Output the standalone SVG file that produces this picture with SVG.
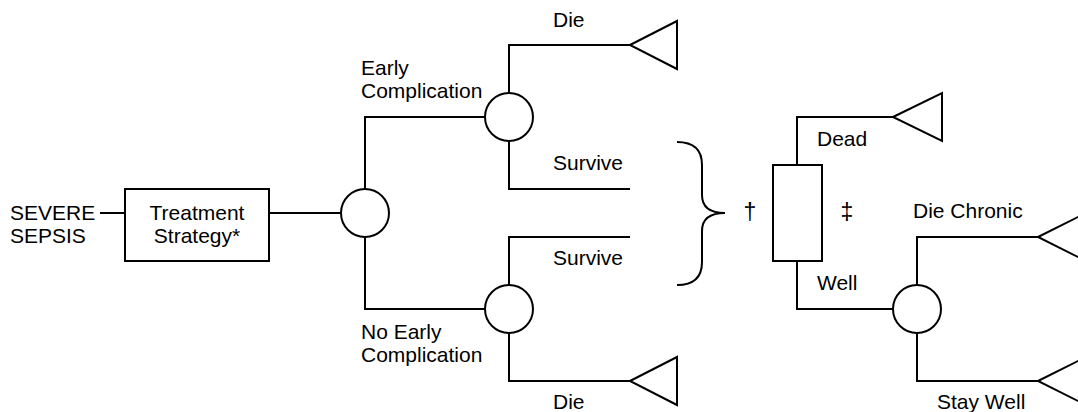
<svg xmlns="http://www.w3.org/2000/svg" width="1078" height="412" viewBox="0 0 1078 412">
  <style>
    .ln { fill: none; stroke: #000; stroke-width: 2; }
    .shape { fill: #fff; stroke: #000; stroke-width: 2; }
    text { font-family: "Liberation Sans", Arial, sans-serif; font-size: 21px; fill: #000; }
    .mid { text-anchor: middle; }
    .mark { font-size: 23px; }
  </style>
  <rect width="1078" height="412" fill="#fff"/>

  <!-- connectors -->
  <g id="connectors" class="ln">
    <path d="M100,213 H125"/>
    <path d="M269,213 H341"/>
    <path d="M365,189 V117 H485"/>
    <path d="M365,237 V309 H485"/>
    <path d="M509,93 V45 H630"/>
    <path d="M509,141 V189 H630"/>
    <path d="M509,285 V237 H630"/>
    <path d="M509,333 V381 H630"/>
    <path d="M677,142 Q702,142 702,165 V195 Q702,213 725,213 Q702,213 702,231 V262 Q702,285 677,285"/>
    <path d="M797,165 V117 H893"/>
    <path d="M797,261 V309 H893"/>
    <path d="M917,285 V237 H1038"/>
    <path d="M917,333 V381 H1038"/>
  </g>

  <g id="start">
    <text x="10" y="220">SEVERE</text>
    <text x="10" y="243">SEPSIS</text>
  </g>

  <g id="decision">
    <rect class="shape" x="125" y="189" width="144" height="72"/>
    <text class="mid" x="197" y="220">Treatment</text>
    <text class="mid" x="197" y="243">Strategy*</text>
  </g>

  <g id="chance-main">
    <circle class="shape" cx="365" cy="213" r="24"/>
  </g>

  <g id="chance-early">
    <circle class="shape" cx="509" cy="117" r="24"/>
    <text x="361" y="75">Early</text>
    <text x="361" y="98">Complication</text>
  </g>

  <g id="chance-no-early">
    <circle class="shape" cx="509" cy="309" r="24"/>
    <text x="361" y="339">No Early</text>
    <text x="361" y="362">Complication</text>
  </g>

  <g id="term-early-die">
    <polygon class="shape" points="630,45 677,21 677,69"/>
    <text x="553" y="27">Die</text>
  </g>

  <g id="early-survive">
    <text x="553" y="170">Survive</text>
  </g>

  <g id="no-early-survive">
    <text x="553" y="265">Survive</text>
  </g>

  <g id="term-no-early-die">
    <polygon class="shape" points="630,381 677,357 677,405"/>
    <text x="553" y="409">Die</text>
  </g>

  <g id="markov">
    <text class="mid mark" x="750" y="220">†</text>
    <rect class="shape" x="773" y="165" width="49" height="96"/>
    <text class="mid mark" x="847" y="220">‡</text>
  </g>

  <g id="term-dead">
    <polygon class="shape" points="893,117 942,93 942,141"/>
    <text x="817" y="146">Dead</text>
  </g>

  <g id="well">
    <text x="817" y="290">Well</text>
  </g>

  <g id="chance-well">
    <circle class="shape" cx="917" cy="309" r="24"/>
  </g>

  <g id="term-die-chronic">
    <polygon class="shape" points="1038,237 1086,213 1086,261"/>
    <text x="913" y="218">Die Chronic</text>
  </g>

  <g id="term-stay-well">
    <polygon class="shape" points="1038,381 1086,357 1086,405"/>
    <text x="937" y="409">Stay Well</text>
  </g>
</svg>
